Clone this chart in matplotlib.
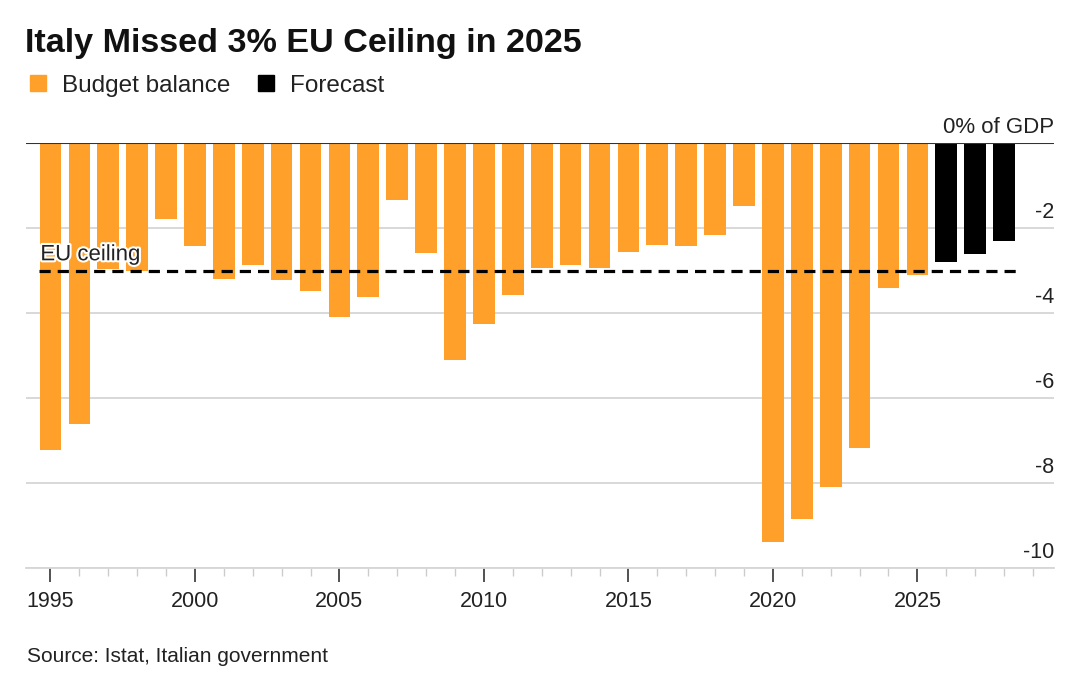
import numpy as np
import matplotlib
matplotlib.use("Agg")
import matplotlib.pyplot as plt
from matplotlib.lines import Line2D
import matplotlib.patheffects as pe
from matplotlib.transforms import offset_copy

plt.rcParams['font.family'] = ['Liberation Sans', 'DejaVu Sans']

# budget balance, % of GDP
years = list(range(1995, 2026))
balance = [-7.22, -6.61, -2.95, -3.0, -1.77, -2.42, -3.19, -2.87, -3.22, -3.48,
           -4.09, -3.61, -1.33, -2.57, -5.11, -4.24, -3.58, -2.93, -2.86, -2.94,
           -2.55, -2.40, -2.42, -2.16, -1.48, -9.38, -8.85, -8.09, -7.18, -3.40,
           -3.10]
fc_years = [2026, 2027, 2028]
forecast = [-2.79, -2.6, -2.3]
eu_ceiling = -3.0

yticks = [-2, -4, -6, -8, -10]
xticks = [1995, 2000, 2005, 2010, 2015, 2020, 2025]

orange = '#FFA02A'

fig = plt.figure(figsize=(10.8, 6.97), dpi=100)
ax = fig.add_axes([0.0245, 0.1846, 0.976 - 0.0245, 0.7944 - 0.1846])

ax.bar(years, balance, width=0.75, color=orange, zorder=2)
ax.bar(fc_years, forecast, width=0.75, color='black', zorder=2)

ax.set_xlim(1994.17, 2029.73)
ax.set_ylim(-10, 0)

# grid lines with labels sitting just above them
lbl_tr = offset_copy(ax.get_yaxis_transform(), fig=fig, x=0, y=4, units='points')
for v in yticks:
    ax.axhline(v, color='#d6d6d6', lw=1.3, zorder=1)
    ax.text(1.0, v, str(v), transform=lbl_tr, ha='right', va='bottom',
            fontsize=15.5, color='#222222')
ax.axhline(0, color='#333333', lw=1.5, zorder=3)
ax.text(1.0, 0, '0% of GDP', transform=lbl_tr, ha='right', va='bottom',
        fontsize=16, color='#222222')

# EU ceiling line
x0 = min(years) - 0.4
x1 = max(fc_years) + 0.4
ax.plot([x0, x1], [eu_ceiling, eu_ceiling], color='black', lw=2.3, ls=(0, (3.5, 2.2)), zorder=4)
ax.text(1995 - 0.35, eu_ceiling + 0.13, 'EU ceiling', fontsize=16, color='#222222', zorder=5,
        ha='left', va='bottom',
        path_effects=[pe.withStroke(linewidth=3, foreground='white')])

for s in ['top', 'right', 'left']:
    ax.spines[s].set_visible(False)
ax.spines['bottom'].set_color('#d6d6d6')
ax.spines['bottom'].set_linewidth(1.3)
ax.set_yticks([])
ax.set_xticks(xticks)
ax.set_xticklabels([str(x) for x in xticks], fontsize=15.5, color='#222222')
ax.set_xticks(list(range(1995, 2030)), minor=True)
ax.tick_params(axis='x', which='major', length=10, width=1.2, color='#333333', pad=6)
ax.tick_params(axis='x', which='minor', length=6, width=1, color='#cccccc')

fig.text(0.023, 0.96, 'Italy Missed 3% EU Ceiling in 2025', fontsize=24.6, fontweight='bold',
         ha='left', va='top', color='#111111')

handles = [Line2D([], [], marker='s', ls='', markersize=12, color=orange),
           Line2D([], [], marker='s', ls='', markersize=12, color='black')]
fig.legend(handles, ['Budget balance', 'Forecast'], loc='upper left',
           bbox_to_anchor=(0.026, 0.893), frameon=False, ncol=2, fontsize=17.5,
           handlelength=0.8, handletextpad=0.6, columnspacing=1.05,
           borderpad=0, borderaxespad=0, labelcolor='#222222')

fig.text(0.025, 0.058, 'Source: Istat, Italian government', fontsize=15, ha='left',
         va='center', color='#222222')

fig.savefig('out.png', dpi=100)
